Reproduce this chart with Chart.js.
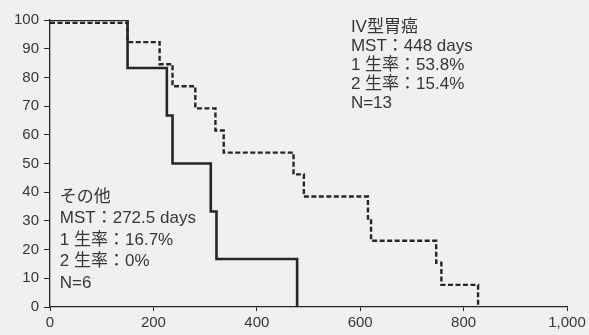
<!DOCTYPE html>
<html>
<head>
<meta charset="utf-8">
<script src="https://cdn.jsdelivr.net/npm/chart.js@4"></script>
<style>
  html, body { margin: 0; padding: 0; background: #f1f0ee; }
  #wrap { width: 589px; height: 335px; }
</style>
</head>
<body>
<div id="wrap"><canvas id="grafico" width="589" height="335"></canvas></div>
<script>
// survival curves (days, % surviving)
const otherDays = [0, 150, 226, 237, 311, 322, 478]
const otherSurv = [100, 83.3, 66.7, 50, 33.3, 16.7, 0]

const typeIVDays = [0, 150, 212, 237, 281, 320, 336, 471, 491, 615, 621, 747, 757, 828]
const typeIVSurv = [99, 92.3, 84.6, 76.9, 69.2, 61.5, 53.8, 46.2, 38.5, 30.8, 23.1, 15.4, 7.7, 0]

const xTicks = [0, 200, 400, 600, 800, 1000]
const yTicks = [0, 10, 20, 30, 40, 50, 60, 70, 80, 90, 100]

const typeIVText = ["IV型胃癌", "MST：448 days", "1 生率：53.8%", "2 生率：15.4%", "N=13"]
const otherText = ["その他", "MST：272.5 days", "1 生率：16.7%", "2 生率：0%", "N=6"]

const ink = "#262626"
const txt = "#363636"
const fam = '"Liberation Sans", "Noto Sans CJK JP", sans-serif'

function pts(xs, ys) {
    return xs.map((x, i) => ({ x: x, y: ys[i] }))
}

// text blocks anchored in data units
const notes = {
    id: "notes",
    afterDatasetsDraw(chart) {
        const { ctx, scales } = chart
        ctx.save()
        ctx.fillStyle = txt
        ctx.font = "17px " + fam
        ctx.textBaseline = "middle"
        ctx.textAlign = "left"
        let x = scales.x.getPixelForValue(582)
        let y = scales.y.getPixelForValue(97.6)
        typeIVText.forEach((t, i) => ctx.fillText(t, x, y + i * 19))
        x = scales.x.getPixelForValue(19)
        y = scales.y.getPixelForValue(38.3)
        otherText.forEach((t, i) => ctx.fillText(t, x, y + i * 21.5))
        ctx.restore()
    }
}

new Chart(document.getElementById("grafico"), {
    type: "line",
    data: {
        datasets: [
            {
                label: "その他",
                data: pts(otherDays, otherSurv),
                stepped: true,
                borderColor: ink,
                borderWidth: 2.6,
                pointRadius: 0,
                fill: false
            },
            {
                label: "IV型胃癌",
                data: pts(typeIVDays, typeIVSurv),
                stepped: true,
                borderColor: ink,
                borderWidth: 2.4,
                borderDash: [5, 2.5],
                pointRadius: 0,
                fill: false
            }
        ]
    },
    options: {
        responsive: false,
        animation: false,
        events: [],
        layout: { padding: { top: 20, right: 22, left: 0, bottom: 0 } },
        plugins: { legend: { display: false }, tooltip: { enabled: false } },
        scales: {
            x: {
                type: "linear",
                min: 0,
                max: 1000,
                afterBuildTicks: s => { s.ticks = xTicks.map(v => ({ value: v })) },
                afterFit: s => { s.height = 28 },
                ticks: { color: txt, font: { family: fam, size: 15 }, padding: 3, maxRotation: 0 },
                grid: { drawOnChartArea: false, tickLength: 4, color: ink, lineWidth: 1 },
                border: { color: ink, width: 1.3 }
            },
            y: {
                min: 0,
                max: 100,
                afterBuildTicks: s => { s.ticks = yTicks.map(v => ({ value: v })) },
                afterFit: s => { s.width = 50 },
                ticks: { color: txt, font: { family: fam, size: 15 }, padding: 5 },
                grid: { drawOnChartArea: false, tickLength: 6, color: ink, lineWidth: 1 },
                border: { color: ink, width: 1.3 }
            }
        }
    },
    plugins: [notes]
})
</script>
</body>
</html>
